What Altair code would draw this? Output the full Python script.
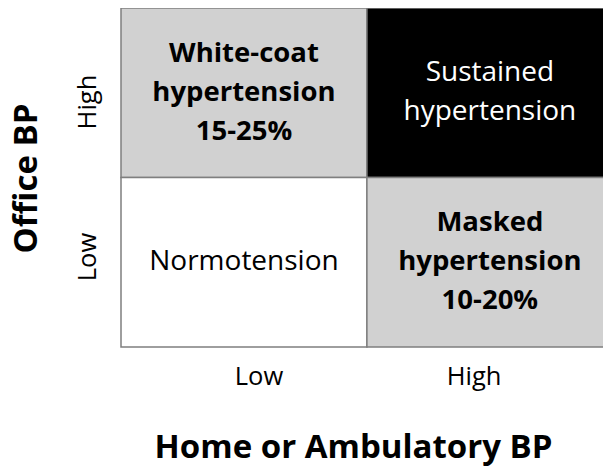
import altair as alt
import pandas as pd

x_levels = ["Low", "High"]
y_levels = ["Low", "High"]

cell_x = ["Low", "High", "Low", "High"]
cell_y = ["High", "High", "Low", "Low"]
cell_kind = ["White-coat hypertension", "Sustained hypertension", "Normotension", "Masked hypertension"]
cell_text = ["White-coat\nhypertension\n15-25%", "Sustained\nhypertension", "Normotension", "Masked\nhypertension\n10-20%"]
cell_bold = [True, False, False, True]

df = pd.DataFrame({
    "xcat": cell_x,
    "ycat": cell_y,
    "kind": cell_kind,
    "label": cell_text,
    "bold": cell_bold,
})
df["x0"] = df["xcat"].map(x_levels.index)
df["x1"] = df["x0"] + 1
df["xc"] = df["x0"] + 0.5
df["y0"] = df["ycat"].map(y_levels.index)
df["y1"] = df["y0"] + 1
df["yc"] = df["y0"] + 0.5
df["nlines"] = df["label"].str.count("\n") + 1

LH = 39

# The reference crops the right-hand column at the image edge
xscale = alt.Scale(domain=[0, 1.96], nice=False, zero=False)
yscale = alt.Scale(domain=[0, 2], nice=False, zero=False)

xaxis = alt.Axis(
    values=[0.559, 1.434],
    labelExpr="datum.value < 1 ? 'Low' : 'High'",
    title="Home or Ambulatory BP",
    titleX=232, titleY=110, titleAlign="center", titleBaseline="alphabetic",
    titleFont="Open Sans", titleFontSize=33, titleFontWeight="bold", titleColor="#000000",
    labelFont="Open Sans", labelFontSize=25.5, labelColor="#000000", labelPadding=17,
    domain=False, ticks=False, grid=False,
)
yaxis = alt.Axis(
    values=[0.534, 1.448],
    labelExpr="datum.value < 1 ? 'Low' : 'High'",
    labelAngle=270, labelAlign="center", labelBaseline="alphabetic",
    title="Office BP",
    titleAngle=270, titleX=-85, titleY=170, titleAlign="center", titleBaseline="alphabetic",
    titleFont="Open Sans", titleFontSize=33, titleFontWeight="bold", titleColor="#000000",
    labelFont="Open Sans", labelFontSize=25.5, labelColor="#000000", labelPadding=26,
    domain=False, ticks=False, grid=False,
)

base = alt.Chart(df)

rect = base.mark_rect(stroke="#7f7f7f", strokeWidth=1.5).encode(
    x=alt.X("x0:Q", scale=xscale, axis=xaxis),
    x2="x1:Q",
    y=alt.Y("y0:Q", scale=yscale, axis=yaxis),
    y2="y1:Q",
    fill=alt.Fill("kind:N", scale=alt.Scale(domain=cell_kind, range=["#d1d1d1", "#000000", "#ffffff", "#d1d1d1"]), legend=None),
)

text_color = alt.Color("kind:N", scale=alt.Scale(domain=cell_kind, range=["#000000", "#ffffff", "#000000", "#000000"]), legend=None)


def text_layer(bold, n):
    return base.transform_filter(
        f"{'' if bold else '!'}datum.bold && datum.nlines == {n}"
    ).mark_text(
        font="Open Sans", fontSize=27.5 if bold else 28, fontWeight="bold" if bold else "normal",
        lineBreak="\n", lineHeight=LH, baseline="middle", align="center", dy=-(n - 1) * LH / 2,
    ).encode(
        x=alt.X("xc:Q", scale=xscale, axis=xaxis),
        y=alt.Y("yc:Q", scale=yscale, axis=yaxis),
        text="label:N",
        color=text_color,
    )


layers = [rect]
for b in (True, False):
    for n in sorted(df.loc[df["bold"] == b, "nlines"].unique()):
        layers.append(text_layer(b, int(n)))

chart = alt.layer(*layers).properties(
    width=482, height=339,
    autosize="none",
    padding={"left": 113, "top": 0, "right": 0, "bottom": 122},
).configure_view(stroke=None)

chart.save("out.html", embed_options={"renderer": "svg", "actions": False})
